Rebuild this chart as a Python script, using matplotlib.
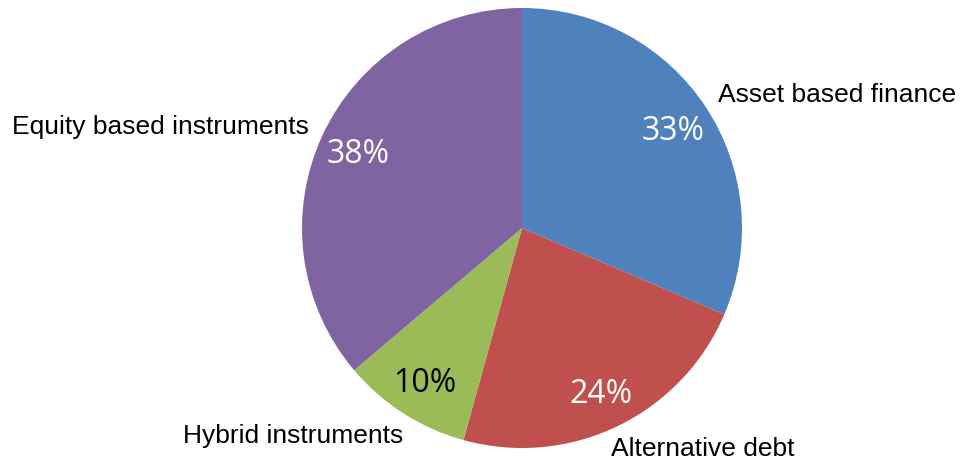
import matplotlib
matplotlib.use("Agg")
import matplotlib.pyplot as plt
import numpy as np

categories = ["Asset based finance", "Alternative debt", "Hybrid instruments", "Equity based instruments"]
values = [33, 24, 10, 38]
pct_labels = ["33%", "24%", "10%", "38%"]

colors = ["#4F81BD", "#C0504D", "#9BBB59", "#8064A2"]
pct_colors = ["white", "white", "black", "white"]
# label anchor positions in figure pixels (left x, center y from top)
label_pos = [(718, 95), (611, 449), (183, 436), (12, 127)]

W, H = 961, 461
fig = plt.figure(figsize=(W / 100, H / 100), dpi=100)
cx, cy, R = 522, 228, 220
ax = fig.add_axes([(cx - R) / W, (H - cy - R) / H, 2 * R / W, 2 * R / H])

wedges, texts = ax.pie(values, colors=colors, startangle=90, counterclock=False,
                       radius=1.0, wedgeprops=dict(linewidth=0))
tot = sum(values)
ang = 90.0
fs = 23
half_cap = 0.714 * fs / 72 * 100 / 2 / R  # half digit height in data units
for v, lab, col in zip(values, pct_labels, pct_colors):
    span = 360.0 * v / tot
    mid = np.deg2rad(ang - span / 2)
    ang -= span
    ax.text(0.823 * np.cos(mid), 0.823 * np.sin(mid) - half_cap, lab, ha="center",
            va="baseline", color=col, fontsize=fs, family="Open Sans")
ax.set_xlim(-1, 1)
ax.set_ylim(-1, 1)
ax.set_aspect("equal")
ax.axis("off")

for cat, (px, py) in zip(categories, label_pos):
    fig.text(px / W, 1 - py / H, cat, ha="left", va="center", fontsize=19,
             family="Liberation Sans", color="black")

fig.savefig("out.png", dpi=100)
